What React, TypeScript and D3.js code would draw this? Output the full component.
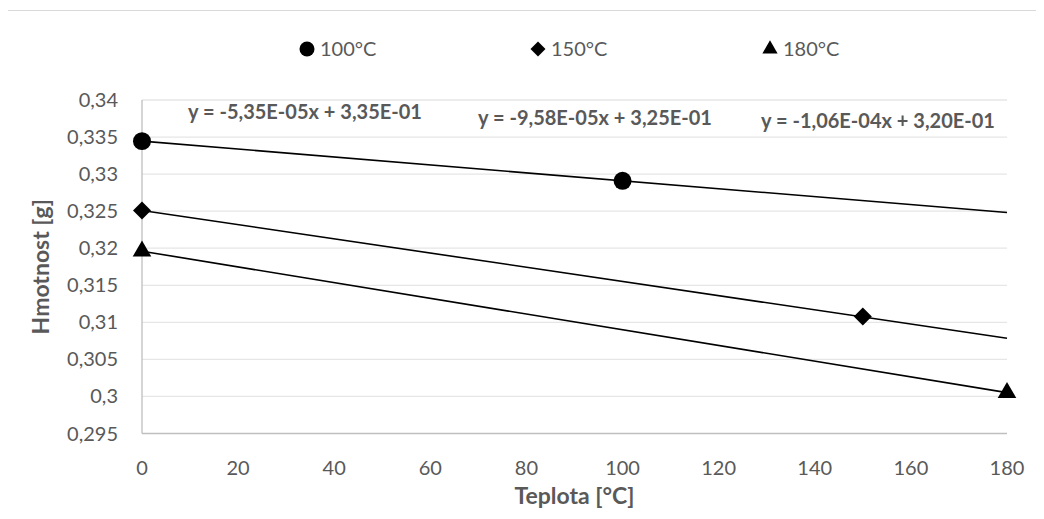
import * as d3 from "d3";
import { useEffect, useRef } from "react";

const series = ["100°C", "150°C", "180°C"];
const pointX = [[0, 100], [0, 150], [0, 180]];
const pointY = [[0.33445, 0.3291], [0.3251, 0.3108], [0.3196, 0.3005]];
const slopes = [-5.35e-5, -9.58e-5, -1.06e-4];
const intercepts = [0.33445, 0.3251, 0.3196];
const equations = ["y = -5,35E-05x + 3,35E-01", "y = -9,58E-05x + 3,25E-01", "y = -1,06E-04x + 3,20E-01"];
const xTicks = [0, 20, 40, 60, 80, 100, 120, 140, 160, 180];
const yTicks = [0.295, 0.3, 0.305, 0.31, 0.315, 0.32, 0.325, 0.33, 0.335, 0.34];

export default function App() {
    const chartRef = useRef(null);

    useEffect(() => {
        const width = 1044;
        const height = 519;
        const marginTop = 100;
        const marginRight = 37;
        const marginBottom = 85.5;
        const marginLeft = 142;
        const font = "Lato, 'Open Sans', sans-serif";

        const x = d3.scaleLinear().domain([0, 180]).range([marginLeft, width - marginRight]);
        const y = d3.scaleLinear().domain([0.295, 0.34]).range([height - marginBottom, marginTop]);

        d3.select(chartRef.current).selectAll("*").remove();
        const svg = d3.select(chartRef.current)
            .append("svg")
            .attr("width", width)
            .attr("height", height)
            .style("display", "block")
            .style("font-family", font);

        // chart border
        svg.append("rect")
            .attr("x", 7.5).attr("y", 10.5)
            .attr("width", width + 10).attr("height", height + 10)
            .attr("fill", "white").attr("stroke", "#d9d9d9");

        // gridlines
        svg.append("g")
            .selectAll("line")
            .data(yTicks.slice(1))
            .join("line")
            .attr("x1", x(0)).attr("x2", x(180))
            .attr("y1", d => y(d)).attr("y2", d => y(d))
            .attr("stroke", "#e6e6e6").attr("stroke-width", 1.3);

        // axes lines
        svg.append("line")
            .attr("x1", x(0)).attr("x2", x(180))
            .attr("y1", y(0.295)).attr("y2", y(0.295))
            .attr("stroke", "#bfbfbf").attr("stroke-width", 1.3);
        svg.append("line")
            .attr("x1", x(0)).attr("x2", x(0))
            .attr("y1", y(0.295)).attr("y2", y(0.34))
            .attr("stroke", "#bfbfbf").attr("stroke-width", 1.3);

        const fmt = d => String(d).replace(".", ",");

        svg.append("g")
            .selectAll("text")
            .data(yTicks)
            .join("text")
            .attr("x", 118).attr("y", d => y(d))
            .attr("dy", "0.35em")
            .attr("text-anchor", "end")
            .attr("font-size", 20).attr("fill", "#595959")
            .text(fmt);

        svg.append("g")
            .selectAll("text")
            .data(xTicks)
            .join("text")
            .attr("x", d => x(d)).attr("y", 468)
            .attr("dy", "0.35em")
            .attr("text-anchor", "middle")
            .attr("font-size", 20).attr("fill", "#595959")
            .text(d => d);

        svg.append("text")
            .attr("x", (x(0) + x(180)) / 2).attr("y", 504)
            .attr("text-anchor", "middle")
            .attr("font-size", 23).attr("font-weight", "bold").attr("fill", "#595959")
            .text("Teplota [°C]");

        svg.append("text")
            .attr("transform", `translate(49,${(y(0.295) + y(0.34)) / 2}) rotate(-90)`)
            .attr("text-anchor", "middle")
            .attr("font-size", 23).attr("font-weight", "bold").attr("fill", "#595959")
            .text("Hmotnost [g]");

        // trendlines
        series.forEach((s, i) => {
            svg.append("line")
                .attr("x1", x(0)).attr("x2", x(180))
                .attr("y1", y(intercepts[i])).attr("y2", y(intercepts[i] + slopes[i] * 180))
                .attr("stroke", "black").attr("stroke-width", 1.6);
        });

        const symbols = [d3.symbolCircle, d3.symbolSquare, d3.symbolTriangle];
        const rot = [0, 45, 0];
        const sizes = [254, 162, 150];
        const legendSizes = [177, 112, 100];

        series.forEach((s, i) => {
            svg.append("g")
                .selectAll("path")
                .data(pointX[i].map((v, j) => [v, pointY[i][j]]))
                .join("path")
                .attr("transform", d => `translate(${x(d[0])},${y(d[1])}) rotate(${rot[i]})`)
                .attr("d", d3.symbol().type(symbols[i]).size(sizes[i]))
                .attr("fill", "black");
        });

        // equation labels
        const eqPos = [[305, 112], [595, 118], [878, 121]];
        equations.forEach((e, i) => {
            svg.append("text")
                .attr("x", eqPos[i][0]).attr("y", eqPos[i][1])
                .attr("dy", "0.35em")
                .attr("text-anchor", "middle")
                .attr("font-size", 20).attr("font-weight", "bold").attr("fill", "#595959")
                .text(e);
        });

        // legend
        const legendX = [307, 538, 770];
        series.forEach((s, i) => {
            svg.append("path")
                .attr("transform", `translate(${legendX[i]},49) rotate(${rot[i]})`)
                .attr("d", d3.symbol().type(symbols[i]).size(legendSizes[i]))
                .attr("fill", "black");
            svg.append("text")
                .attr("x", legendX[i] + 13).attr("y", 49)
                .attr("dy", "0.35em")
                .attr("font-size", 20).attr("fill", "#595959")
                .text(s);
        });
    }, []);

    return <div ref={chartRef} style={{ margin: -8 }}></div>;
}
